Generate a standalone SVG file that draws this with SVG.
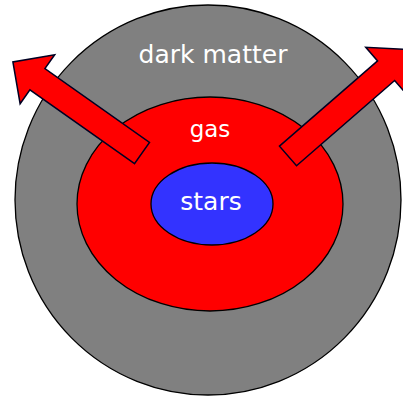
<svg xmlns="http://www.w3.org/2000/svg" width="403" height="396" viewBox="0 0 403 396">
<style>
.lbl{fill:#fff;font-family:"DejaVu Sans",sans-serif;text-anchor:middle}
.arrow{fill:#ff0000;stroke:#000022;stroke-width:1.5;stroke-linejoin:miter}
</style>
<rect width="403" height="396" fill="#fff"/>
<g id="dark-matter">
<ellipse cx="208" cy="200" rx="193" ry="195" fill="#808080" stroke="#000" stroke-width="1.3"/>
<text class="lbl" x="213" y="63" font-size="25">dark matter</text>
</g>
<g id="gas">
<ellipse cx="210" cy="204" rx="133" ry="107" fill="#ff0000" stroke="#000" stroke-width="1.3"/>
<text class="lbl" x="210" y="137" font-size="23">gas</text>
</g>
<g id="stars">
<ellipse cx="212" cy="204" rx="61" ry="41" fill="#3333ff" stroke="#000" stroke-width="1.3"/>
<text class="lbl" x="211" y="210" font-size="25">stars</text>
</g>
<g id="connectors">
<path class="arrow" transform="translate(142,153) rotate(215.2)" d="M0,-13 L128,-13 L128,-30 L158,0 L128,30 L128,13 L0,13 Z"/>
<path class="arrow" transform="translate(288,156) rotate(-41)" d="M0,-13 L130,-13 L130,-31 L162,0 L130,31 L130,13 L0,13 Z"/>
</g>
</svg>
